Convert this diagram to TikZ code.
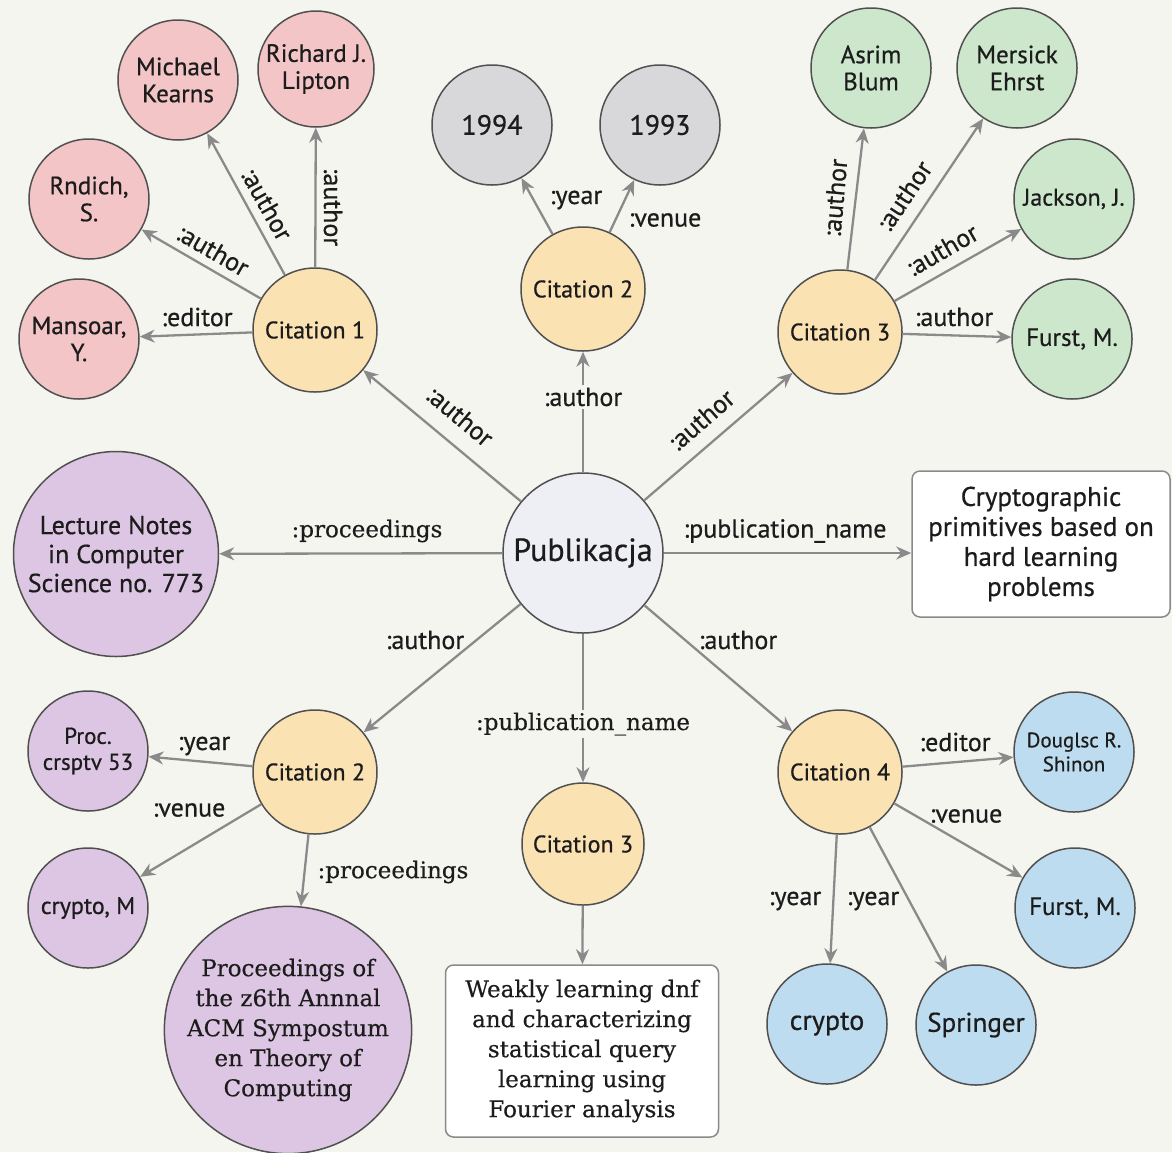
\documentclass[tikz,border=0pt]{standalone}
\usepackage{fontspec}
\setmainfont{PT Sans}[FakeBold=0.6]
\newfontfamily\serifface{DejaVu Serif}[FakeBold=0.4]
\usetikzlibrary{arrows.meta}
\definecolor{bg}{HTML}{F5F5F0}
\definecolor{pinkf}{HTML}{F3C5C7}
\definecolor{greenf}{HTML}{CDE7CD}
\definecolor{greyf}{HTML}{D8D8DA}
\definecolor{yellowf}{HTML}{FBE2B2}
\definecolor{purplef}{HTML}{DDC6E3}
\definecolor{bluef}{HTML}{BEDCF0}
\definecolor{pubf}{HTML}{EEEEF5}
\definecolor{bordc}{HTML}{505050}
\definecolor{edgec}{HTML}{8A8A8A}
\definecolor{textc}{HTML}{1C1C1C}
\tikzset{
  nd/.style={circle, draw=bordc, line width=1.5pt, inner sep=0pt, align=center, text=textc,
    font=\fontsize{25}{27}\selectfont},
  r60/.style={minimum size=120pt},
  pinkn/.style={nd, r60, fill=pinkf},
  greenn/.style={nd, r60, fill=greenf},
  greyn/.style={nd, r60, fill=greyf, font=\fontsize{28}{30}\selectfont},
  citn/.style={nd, minimum size=124pt, fill=yellowf, font=\fontsize{24}{27}\selectfont},
  purpn/.style={nd, r60, fill=purplef},
  bluen/.style={nd, r60, fill=bluef},
  arr/.style={draw=edgec, line width=2.3pt, -{Stealth[length=15pt,width=13pt]}},
  lbl/.style={font=\fontsize{26}{28}\selectfont, inner sep=1pt, text=textc},
  slbl/.style={font=\serifface\fontsize{23}{26}\selectfont, inner sep=1pt, text=textc},
  bgl/.style={fill=bg, inner sep=3pt},
  boxn/.style={draw=edgec, line width=1.5pt, rounded corners=8pt, fill=white, align=center, text=textc}
}
\begin{document}
\begin{tikzpicture}[x=1pt,y=-1pt]
\fill[bg] (0,0) rectangle (1172,1152);
\useasboundingbox (0,0) rectangle (1172,1152);

% central
\node[nd, minimum size=160pt, fill=pubf, font=\fontsize{32}{34}\selectfont] (pub) at (583,553) {Publikacja};

% citation 1 group
\node[citn] (c1) at (315,330) {Citation 1};
\node[pinkn] (kearns) at (178,80) {Michael\\Kearns};
\node[pinkn, minimum size=116pt] (lipton) at (316,69) {Richard J.\\Lipton};
\node[pinkn] (rndich) at (89,199) {Rndich,\\S.};
\node[pinkn] (mansoor) at (79,339) {Mansoar,\\Y.};

% citation 2 top
\node[citn] (c2t) at (583,289) {Citation 2};
\node[greyn] (y94) at (492,125) {1994};
\node[greyn] (y93) at (660,125) {1993};

% citation 3 top
\node[citn] (c3t) at (840,332) {Citation 3};
\node[greenn] (blum) at (871,68) {Asrim\\Blum};
\node[greenn] (ehrst) at (1017,68) {Mersick\\Ehrst};
\node[greenn, font=\fontsize{24}{27}\selectfont] (jackson) at (1074,199) {Jackson, J.};
\node[greenn] (furstg) at (1072,339) {Furst, M.};

% left / right
\node[nd, minimum size=205pt, fill=purplef, font=\fontsize{26}{29}\selectfont] (lncs) at (116,554) {Lecture Notes\\in Computer\\Science no. 773};
\node[boxn, minimum width=258pt, minimum height=146pt, font=\fontsize{27}{30}\selectfont] (crypt) at (1041,544) {Cryptographic\\primitives based on\\hard learning\\problems};

% citation 2 bottom
\node[citn] (c2b) at (315,772) {Citation 2};
\node[purpn, font=\fontsize{23}{26}\selectfont] (proc) at (88,751) {Proc.\\crsptv 53};
\node[purpn, font=\fontsize{24}{26}\selectfont] (cryptom) at (88,908) {crypto, M};
\node[nd, minimum size=246pt, fill=purplef, font=\serifface\fontsize{23}{30}\selectfont] (stoc) at (288,1030) {Proceedings of\\the z6th Annnal\\ACM Sympostum\\en Theory of\\Computing};

% citation 3 bottom
\node[citn, minimum size=122pt] (c3b) at (583,844) {Citation 3};
\node[boxn, minimum width=273pt, minimum height=172pt, font=\serifface\fontsize{23}{30}\selectfont] (weak) at (582,1051) {Weakly learning dnf\\and characterizing\\statistical query\\learning using\\Fourier analysis};

% citation 4
\node[citn] (c4) at (840,772) {Citation 4};
\node[bluen, font=\fontsize{21}{24}\selectfont] (shinon) at (1074,752) {Douglsc R.\\Shinon};
\node[bluen] (furstb) at (1075,908) {Furst, M.};
\node[bluen, font=\fontsize{28}{30}\selectfont] (cryptob) at (827,1024) {crypto};
\node[bluen, font=\fontsize{27}{30}\selectfont] (springer) at (976,1025) {Springer};

% edges from central
\draw[arr] (pub) -- (c1);
\draw[arr] (pub) -- (c2t);
\draw[arr] (pub) -- (c3t);
\draw[arr] (pub) -- (lncs);
\draw[arr] (pub) -- (crypt.west |- pub);
\draw[arr] (pub) -- (c2b);
\draw[arr] (pub) -- (c3b);
\draw[arr] (pub) -- (c4);

% citation 1 edges
\draw[arr] (c1) -- (kearns);
\draw[arr] (c1) -- (lipton);
\draw[arr] (c1) -- (rndich);
\draw[arr] (c1) -- (mansoor);

% citation 2 top
\draw[arr] (c2t) -- (y94);
\draw[arr] (c2t) -- (y93);

% citation 3 top
\draw[arr] (c3t) -- (blum);
\draw[arr] (c3t) -- (ehrst);
\draw[arr] (c3t) -- (jackson);
\draw[arr] (c3t) -- (furstg);

% citation 2 bottom
\draw[arr] (c2b) -- (proc);
\draw[arr] (c2b) -- (cryptom);
\draw[arr] (c2b) -- (stoc);

% citation 3 bottom
\draw[arr] (c3b) -- (weak);

% citation 4
\draw[arr] (c4) -- (shinon);
\draw[arr] (c4) -- (furstb);
\draw[arr] (c4) -- (cryptob);
\draw[arr] (c4) -- (springer);

% labels
\node[lbl, rotate=-40] (l1) at (460,416) {:author};
\node[lbl, bgl] (l2) at (583,397) {:author};
\node[lbl, rotate=41] (l3) at (701,420) {:author};
\node[slbl] (l4) at (367,531) {:proceedings};
\node[lbl] (l5) at (785,531) {:publication\_name};
\node[lbl] (l6) at (425,640) {:author};
\node[lbl] (l7) at (738,640) {:author};
\node[slbl, bgl] (l8) at (583,724) {:publication\_name};

\node[lbl, rotate=-61] (l9) at (267,204) {:author};
\node[lbl, rotate=-90] (l10) at (333,207) {:author};
\node[lbl, rotate=-30] (l11) at (213,250) {:author};
\node[lbl] (l12) at (197,317) {:editor};

\node[lbl] (l13) at (576,200) {:year};
\node[lbl] (l14) at (665,220) {:venue};

\node[lbl, rotate=85] (l15) at (835,198) {:author};
\node[lbl, rotate=56] (l16) at (904,196) {:author};
\node[lbl, rotate=30] (l17) at (942,250) {:author};
\node[lbl] (l18) at (954,317) {:author};

\node[lbl] (l19) at (204,746) {:year};
\node[lbl] (l20) at (189,810) {:venue};
\node[slbl] (l21) at (393,872) {:proceedings};

\node[lbl] (l22) at (955,742) {:editor};
\node[lbl] (l23) at (966,816) {:venue};
\node[lbl] (l24) at (795,901) {:year};
\node[lbl] (l25) at (873,901) {:year};
\end{tikzpicture}
\end{document}
